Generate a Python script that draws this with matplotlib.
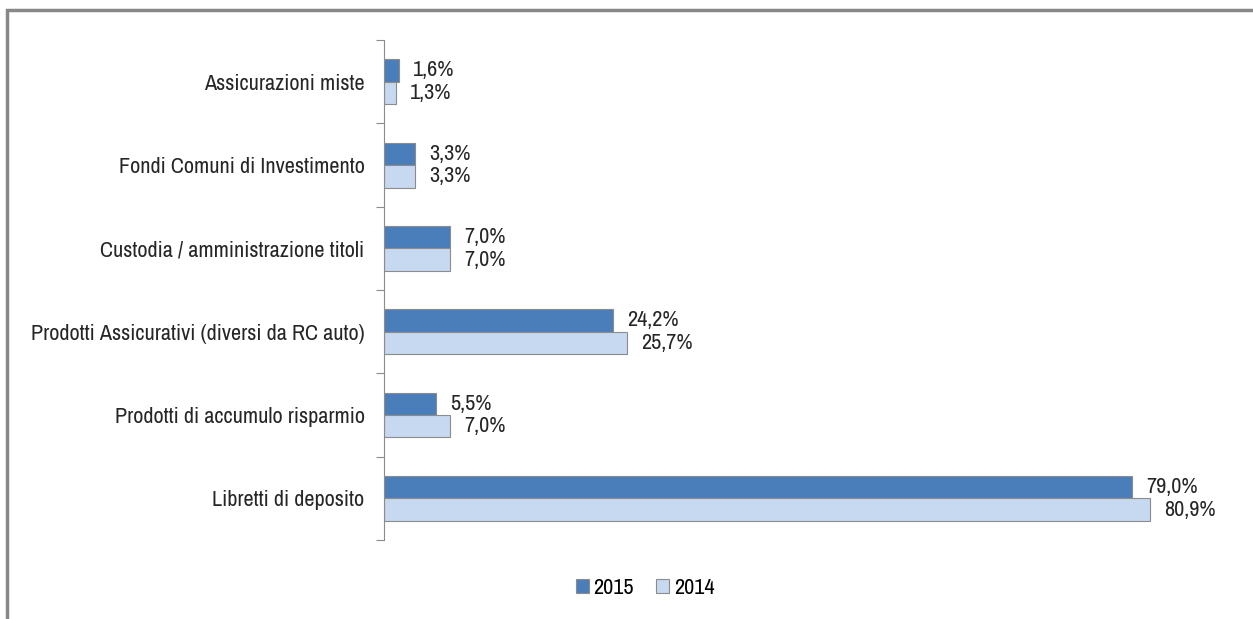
import numpy as np
import matplotlib.pyplot as plt
from matplotlib.patches import Rectangle

categorie = ['Assicurazioni miste', 'Fondi Comuni di Investimento',
             'Custodia / amministrazione titoli',
             'Prodotti Assicurativi (diversi da RC auto)',
             'Prodotti di accumulo risparmio', 'Libretti di deposito']
val_2015 = [1.6, 3.3, 7.0, 24.2, 5.5, 79.0]
val_2014 = [1.3, 3.3, 7.0, 25.7, 7.0, 80.9]

plt.rcParams['font.family'] = ['Archivo Narrow', 'DejaVu Sans']

col_2015 = '#4a7ebb'
col_2014 = '#c6d9f1'
bordo = '#8c8c8c'
testo = '#262626'

fig = plt.figure(figsize=(12.53, 6.19), dpi=100)
# cornice esterna (tagliata a destra e in basso come nell'originale)
fig.patches.append(Rectangle((7 / 1253, -0.1), 1.2, (619 - 9.5) / 619 + 0.1,
                             transform=fig.transFigure, fill=False,
                             edgecolor='#888888', lw=2.5))

ax = fig.add_axes([384 / 1253, 79 / 619, 0.68, 500 / 619])

n = len(categorie)
y = np.arange(n)
h = 0.27
b1 = ax.barh(y - h / 2, val_2015, height=h, color=col_2015, edgecolor=bordo,
             lw=0.8, label='2015')
b2 = ax.barh(y + h / 2, val_2014, height=h, color=col_2014, edgecolor=bordo,
             lw=0.8, label='2014')

for bars in (b1, b2):
    for r in bars:
        v = r.get_width()
        ax.annotate(f'{v:.1f}%'.replace('.', ','),
                    (v, r.get_y() + r.get_height() / 2),
                    xytext=(14, 0), textcoords='offset pixels',
                    va='center', ha='left', fontsize=16, color=testo)

ax.set_ylim(n - 0.5, -0.5)
ax.set_xlim(0, 90)
ax.set_yticks(np.arange(-0.5, n, 1))
ax.set_yticklabels([])
ax.set_yticks(y, minor=True)
ax.set_yticklabels(categorie, minor=True, fontsize=16, color=testo)
ax.tick_params(axis='y', which='major', length=6, color=bordo, direction='out')
ax.tick_params(axis='y', which='minor', length=0, pad=14)
ax.set_xticks([])
for s in ['top', 'right', 'bottom']:
    ax.spines[s].set_visible(False)
ax.spines['left'].set_color(bordo)

fig.legend(handles=[b1, b2], loc='center', bbox_to_anchor=(645 / 1253, 1 - 588 / 619),
           ncol=2, frameon=False, fontsize=16, handlelength=0.6, handleheight=0.6,
           handletextpad=0.2, columnspacing=1.0)

fig.savefig('out.png', dpi=100)
